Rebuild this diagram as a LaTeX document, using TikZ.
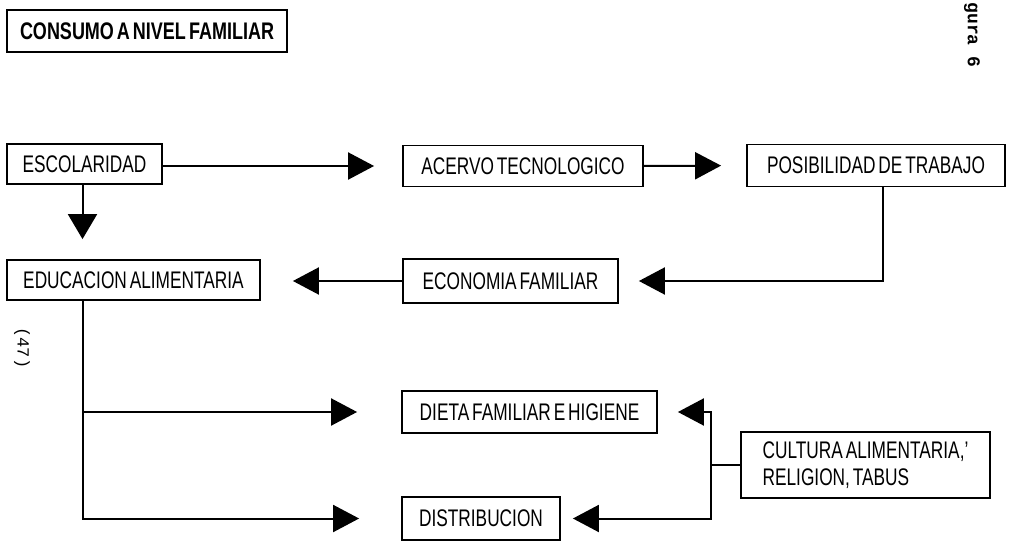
\documentclass[tikz,border=0pt]{standalone}
\usepackage{fontspec}
\setmainfont{Liberation Sans}[FakeStretch=0.72,WordSpace=0.6]
\newfontfamily\titlef{Liberation Sans}[FakeStretch=0.75,WordSpace=0.6]
\newfontfamily\monof{Liberation Mono}
\usetikzlibrary{arrows.meta}
\begin{document}
\begin{tikzpicture}[x=1pt,y=-1pt,
  box/.style={draw,line width=1.8pt,inner sep=0pt,align=center,font=\fontsize{24}{27}\selectfont},
  conn/.style={line width=2pt},
  arr/.style={conn,-{Triangle[length=26pt,width=27pt]}},
  note/.style={font=\monof\fontsize{17}{17}\selectfont,rotate=-90,inner sep=0pt}]
\useasboundingbox (0,0) rectangle (1010,546);

% boxes
\node[box,minimum width=280pt,minimum height=42pt,font=\titlef\bfseries\fontsize{24}{27}\selectfont] (title) at (147,31) {CONSUMO A NIVEL FAMILIAR};
\node[box,minimum width=155pt,minimum height=40pt] (escol) at (84.5,164) {ESCOLARIDAD};
\node[box,minimum width=240pt,minimum height=41pt] (acervo) at (523,166) {ACERVO TECNOLOGICO};
\node[box,minimum width=258pt,minimum height=42pt] (posib) at (876,165.5) {POSIBILIDAD DE TRABAJO};
\node[box,minimum width=253pt,minimum height=40pt] (educ) at (133.5,280) {EDUCACION ALIMENTARIA};
\node[box,minimum width=215pt,minimum height=44pt] (econ) at (510.5,281) {ECONOMIA FAMILIAR};
\node[box,minimum width=255pt,minimum height=42pt] (dieta) at (529.5,412) {DIETA FAMILIAR E HIGIENE};
\node[box,minimum width=158pt,minimum height=43pt] (distr) at (481,518.5) {DISTRIBUCION};
\node[box,minimum width=249pt,minimum height=66pt,align=left] (cult) at (865.5,465) {CULTURA ALIMENTARIA,'\\RELIGION, TABUS};

% side notes
\node[note,font=\monof\bfseries\fontsize{18}{18}\selectfont] (fig) at (972,35) {gura 6};
\node[note] (pag) at (22,348) {(47)};

% connectors
\draw[arr,shorten >=28pt] (escol.east |- acervo.west) -- (acervo.west);
\draw[arr,shorten >=25pt] (acervo.east) -- (posib.west);
\draw[conn,-{Triangle[length=25pt,width=29pt]},shorten >=20pt] ([xshift=-2pt]escol.south) -- ([xshift=-2pt]escol.south |- educ.north);
\draw[arr,shorten >=20pt] ([xshift=7pt]posib.south) |- (econ.east);
\draw[arr,shorten >=32pt] (econ.west) -- (econ.west -| educ.east);

\coordinate (lj) at ([xshift=-2pt]escol.south |- educ.south);
\draw[arr,shorten >=44pt] (lj) |- (dieta.west);
\draw[arr,shorten >=42pt] (lj) |- (distr.west);

\coordinate (rj) at ([xshift=-29pt]cult.west);
\draw[conn] (cult.west) -- (rj);
\draw[arr,shorten >=20pt] (rj) |- (dieta.east);
\draw[arr,shorten >=12pt] (rj) |- (distr.east);
\end{tikzpicture}
\end{document}
